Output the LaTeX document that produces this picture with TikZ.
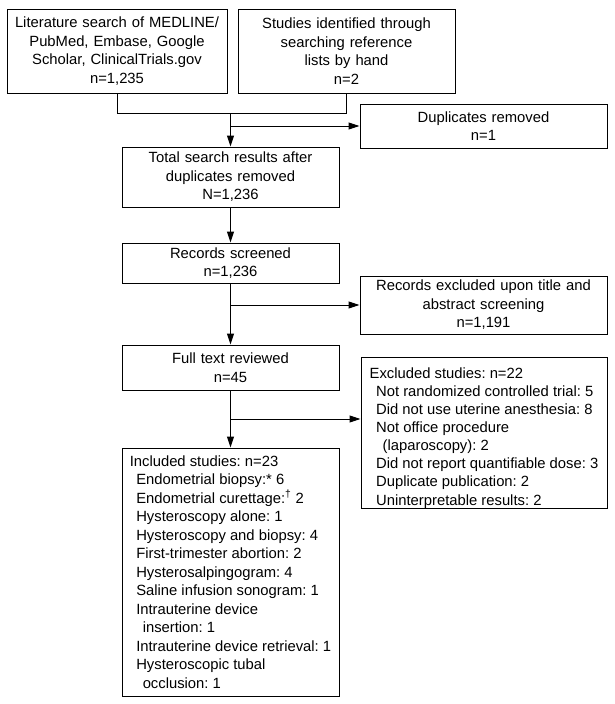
\documentclass[tikz,border=0pt]{standalone}
\usepackage{fontspec}
\setmainfont{Liberation Sans}
\usetikzlibrary{arrows.meta,calc}
\frenchspacing

\tikzset{
  box/.style={draw, line width=1pt, inner xsep=0pt, inner ysep=0pt, align=center,
    font=\fontsize{14.8}{18.5}\selectfont},
  listbox/.style={box, align=left},
  arr/.style={line width=1pt, -{Triangle[length=11pt,width=7pt]}},
  link/.style={line width=1pt}
}

\newcommand{\ind}{\hspace*{6.5pt}}

\begin{document}
\begin{tikzpicture}[x=1pt,y=-1pt]
    \useasboundingbox (0,0) rectangle (615,704);
    \node[box, text width=220pt, minimum height=84pt] (lit) at (117,51) {Literature search of MEDLINE/\\PubMed, Embase, Google\\Scholar, ClinicalTrials.gov\\n=1,235};
    \node[box, text width=217pt, minimum height=84pt] (hand) at (346.5,51) {Studies identified through\\searching reference\\lists by hand\\n=2};
    \node[box, text width=247pt, minimum height=44pt] (dup) at (483.5,126) {Duplicates removed\\n=1};
    \node[box, text width=217pt, minimum height=60pt] (total) at (230.5,177) {Total search results after\\duplicates removed\\N=1,236};
    \node[box, text width=217pt, minimum height=40pt] (screen) at (230.5,263) {Records screened\\n=1,236};
    \node[box, text width=247pt, minimum height=58pt] (recx) at (483.5,305) {Records excluded upon title and\\abstract screening\\n=1,191};
    \node[box, text width=217pt, minimum height=45pt] (full) at (230.5,367.5) {Full text reviewed\\n=45};
    \node[listbox, minimum width=246pt, text height=148pt, text depth=3pt, font=\fontsize{14.8}{18.1}\selectfont] (exc) at (484,432.5) {Excluded studies: n=22\\
        \ind Not randomized controlled trial: 5\\
        \ind Did not use uterine anesthesia: 8\\
        \ind Not office procedure\\
        \ind\ind (laparoscopy): 2\\
        \ind Did not report quantifiable dose: 3\\
        \ind Duplicate publication: 2\\
        \ind Uninterpretable results: 2};
    \node[listbox, minimum width=217pt, text height=240pt, text depth=8pt] (inc) at (230.5,572) {Included studies: n=23\\
        \ind Endometrial biopsy:* 6\\
        \ind Endometrial curettage:\textsuperscript{†} 2\\
        \ind Hysteroscopy alone: 1\\
        \ind Hysteroscopy and biopsy: 4\\
        \ind First-trimester abortion: 2\\
        \ind Hysterosalpingogram: 4\\
        \ind Saline infusion sonogram: 1\\
        \ind Intrauterine device\\
        \ind\ind insertion: 1\\
        \ind Intrauterine device retrieval: 1\\
        \ind Hysteroscopic tubal\\
        \ind\ind occlusion: 1};
    \draw[link] (lit.south) -- ++(0,20) coordinate (low) -| (hand.south);
    \draw[arr] (total.north |- low) -- (total.north);
    \draw[arr] (total.north |- dup.west) -- (dup.west);
    \draw[arr] (total) -- (screen);
    \draw[arr] (screen) -- (full);
    \draw[arr] (screen.south |- recx.west) -- (recx.west);
    \draw[arr] (full) -- (inc);
    \coordinate (fork) at ($(full.south)!0.5!(inc.north)$);
    \draw[arr] (fork) -- (fork -| exc.west);
\end{tikzpicture}
\end{document}
